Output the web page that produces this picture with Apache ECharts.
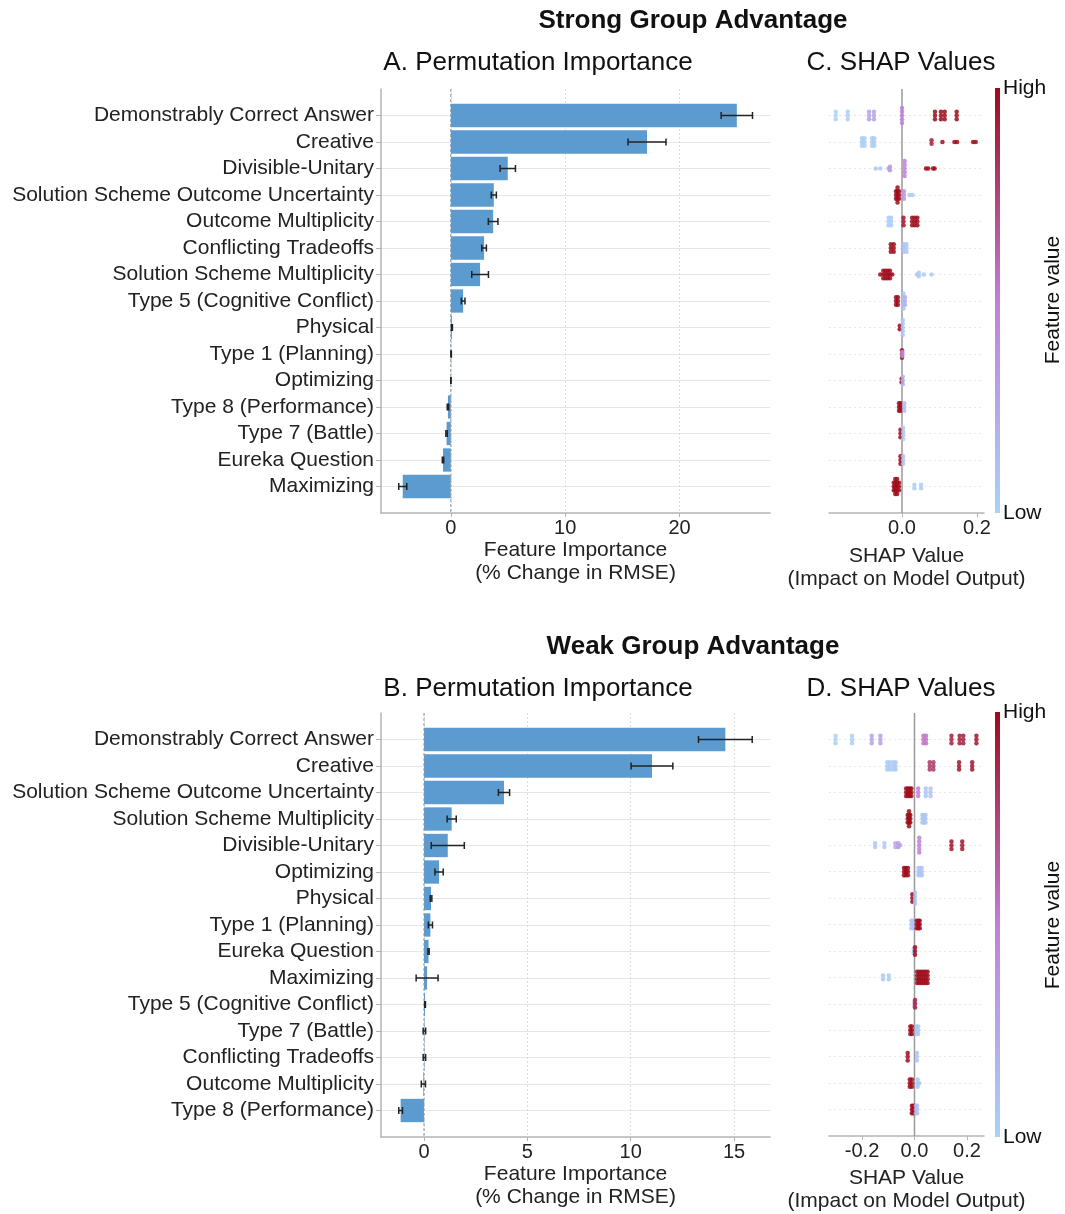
<!DOCTYPE html>
<html>
<head>
<meta charset="utf-8">
<script src="https://cdn.jsdelivr.net/npm/echarts@6/dist/echarts.min.js"></script>
<style>
  html, body { margin: 0; padding: 0; background: #fff; }
  #main { width: 1065px; height: 1214px; }
</style>
</head>
<body>
<div id="main"></div>
<script>
// ---- data: permutation importance (strong group advantage) ----
var catsA = ['Demonstrably Correct Answer', 'Creative', 'Divisible-Unitary', 'Solution Scheme Outcome Uncertainty',
  'Outcome Multiplicity', 'Conflicting Tradeoffs', 'Solution Scheme Multiplicity', 'Type 5 (Cognitive Conflict)',
  'Physical', 'Type 1 (Planning)', 'Optimizing', 'Type 8 (Performance)', 'Type 7 (Battle)', 'Eureka Question', 'Maximizing'];
var impA = [25.0, 17.15, 4.98, 3.76, 3.70, 2.91, 2.56, 1.08, 0.10, 0.03, 0.01, -0.25, -0.37, -0.68, -4.2];
var errA = [1.37, 1.66, 0.67, 0.22, 0.42, 0.20, 0.73, 0.16, 0.04, 0.02, 0.01, 0.06, 0.06, 0.06, 0.35];

// ---- data: permutation importance (weak group advantage) ----
var catsB = ['Demonstrably Correct Answer', 'Creative', 'Solution Scheme Outcome Uncertainty', 'Solution Scheme Multiplicity',
  'Divisible-Unitary', 'Optimizing', 'Physical', 'Type 1 (Planning)', 'Eureka Question', 'Maximizing',
  'Type 5 (Cognitive Conflict)', 'Type 7 (Battle)', 'Conflicting Tradeoffs', 'Outcome Multiplicity', 'Type 8 (Performance)'];
var impB = [14.58, 11.03, 3.87, 1.34, 1.15, 0.73, 0.34, 0.31, 0.22, 0.15, 0.05, 0.02, 0.02, -0.03, -1.13];
var errB = [1.30, 1.01, 0.27, 0.22, 0.80, 0.20, 0.04, 0.10, 0.03, 0.53, 0.02, 0.06, 0.06, 0.10, 0.09];

// ---- data: SHAP clusters per row, [shap value, feature value 0..1, stacked dots] ----
var shapC = [
  [[-0.177, 0.0, 3], [-0.145, 0.02, 3], [-0.088, 0.3, 3], [-0.075, 0.3, 3], [0.0, 0.5, 5], [0.088, 1, 3], [0.104, 1, 3], [0.114, 1, 3], [0.146, 1, 3]],
  [[-0.107, 0.03, 3], [-0.1, 0.03, 3], [-0.08, 0.03, 3], [-0.074, 0.03, 3], [0.079, 0.9, 2], [0.108, 1, 1], [0.14, 1, 1], [0.147, 1, 1], [0.19, 1, 1], [0.197, 1, 1]],
  [[-0.07, 0.05, 1], [-0.058, 0.05, 1], [-0.036, 0.25, 1], [-0.032, 0.35, 2], [0.007, 0.5, 5], [0.064, 1, 1], [0.07, 1, 1], [0.083, 1, 1], [0.087, 1, 1]],
  [[-0.016, 1, 3], [-0.012, 1, 5], [-0.008, 1, 3], [0.005, 0.4, 3], [0.02, 0.05, 1], [0.028, 0.05, 1]],
  [[-0.036, 0.03, 3], [-0.029, 0.03, 3], [0.004, 0.95, 3], [0.027, 1, 3], [0.034, 1, 3], [0.041, 1, 3]],
  [[-0.03, 1, 3], [-0.022, 1, 3], [0.004, 0.12, 3], [0.012, 0.08, 3]],
  [[-0.058, 1, 1], [-0.05, 1, 3], [-0.044, 1, 3], [-0.038, 1, 3], [-0.032, 1, 3], [-0.026, 1, 1], [0.04, 0.05, 1], [0.045, 0.05, 2], [0.058, 0.05, 1], [0.079, 0.05, 1]],
  [[-0.016, 1, 3], [-0.011, 1, 3], [0.004, 0.08, 5], [0.008, 0.2, 3]],
  [[-0.006, 1, 2], [0.002, 0.08, 5]],
  [[0.0, 0.95, 3], [0.001, 0.4, 2]],
  [[-0.001, 1, 2], [0.002, 0.15, 3]],
  [[-0.008, 1, 3], [-0.004, 1, 3], [0.006, 0.15, 3]],
  [[-0.004, 1, 3], [0.003, 0.08, 4]],
  [[-0.004, 1, 3], [0.003, 0.08, 3]],
  [[-0.022, 1, 3], [-0.018, 1, 5], [-0.013, 1, 5], [-0.008, 1, 3], [0.033, 0.03, 2], [0.051, 0.03, 2]]
];
var shapD = [
  [[-0.301, 0.0, 3], [-0.238, 0.02, 3], [-0.163, 0.3, 3], [-0.13, 0.3, 3], [0.034, 0.55, 3], [0.044, 0.55, 3], [0.141, 0.9, 3], [0.172, 0.92, 3], [0.186, 0.92, 3], [0.236, 0.95, 3]],
  [[-0.104, 0.05, 3], [-0.093, 0.05, 3], [-0.08, 0.05, 3], [-0.072, 0.05, 3], [0.058, 0.8, 3], [0.072, 0.8, 3], [0.17, 0.95, 3], [0.22, 0.95, 3]],
  [[-0.032, 1, 3], [-0.025, 1, 3], [-0.018, 1, 3], [-0.012, 1, 3], [0.014, 0.5, 3], [0.043, 0.08, 3], [0.061, 0.08, 3]],
  [[-0.026, 1, 3], [-0.021, 1, 5], [-0.016, 1, 3], [0.03, 0.08, 3], [0.036, 0.08, 3], [0.042, 0.08, 3]],
  [[-0.15, 0.05, 2], [-0.115, 0.05, 2], [-0.073, 0.25, 2], [-0.062, 0.35, 2], [-0.055, 0.3, 1], [0.018, 0.5, 5], [0.141, 0.95, 3], [0.182, 0.95, 3]],
  [[-0.04, 1, 3], [-0.033, 1, 3], [-0.025, 1, 3], [0.015, 0.08, 3], [0.022, 0.08, 3], [0.028, 0.08, 3]],
  [[-0.008, 1, 3], [0.002, 0.1, 4]],
  [[-0.012, 0.08, 3], [-0.005, 0.08, 3], [0.008, 1, 3], [0.015, 1, 3], [0.02, 1, 3]],
  [[-0.003, 0.1, 2], [0.002, 1, 3]],
  [[-0.12, 0.05, 2], [-0.098, 0.05, 2], [0.01, 1, 4], [0.018, 1, 4], [0.026, 1, 4], [0.034, 1, 4], [0.042, 1, 4], [0.05, 1, 4]],
  [[0.0, 0.4, 2], [0.002, 0.9, 3]],
  [[-0.016, 1, 3], [-0.01, 1, 3], [0.008, 0.08, 3], [0.014, 0.08, 3]],
  [[-0.026, 1, 3], [0.009, 0.08, 3]],
  [[-0.018, 1, 3], [-0.01, 1, 3], [0.012, 0.08, 3], [0.018, 0.08, 1]],
  [[-0.01, 1, 3], [-0.004, 1, 3], [0.005, 0.2, 3], [0.01, 0.1, 3]]
];

var ticksA = [0, 10, 20];
var ticksB = [0, 5, 10, 15];
var ticksC = [0, 0.2];
var ticksD = [-0.2, 0, 0.2];
var rowIdx = [0, 1, 2, 3, 4, 5, 6, 7, 8, 9, 10, 11, 12, 13, 14];

var FONT = '"Liberation Sans", Arial, Helvetica, sans-serif';
var barColor = '#5b9bd0';
var shapColors = ['#a9d2f8', '#c07fd8', '#9e0a1a'];

var myChart = echarts.init(document.getElementById('main'), null, { renderer: 'canvas' });

function barItem(params, api) {
  var v = api.value(0), i = api.value(1);
  var p0 = api.coord([0, i]), p1 = api.coord([v, i]);
  var h = api.size([0, 0.88])[1];
  return {
    type: 'rect',
    shape: { x: Math.min(p0[0], p1[0]), y: p0[1] - h / 2, width: Math.abs(p1[0] - p0[0]), height: h },
    style: { fill: barColor }
  };
}
function errItem(params, api) {
  var v = api.value(0), i = api.value(1), e = api.value(2);
  var a = api.coord([v - e, i]), b = api.coord([v + e, i]);
  var c = 3.5;
  var st = { stroke: '#222', lineWidth: 1.5 };
  return {
    type: 'group',
    children: [
      { type: 'line', shape: { x1: a[0], y1: a[1], x2: b[0], y2: b[1] }, style: st },
      { type: 'line', shape: { x1: a[0], y1: a[1] - c, x2: a[0], y2: a[1] + c }, style: st },
      { type: 'line', shape: { x1: b[0], y1: b[1] - c, x2: b[0], y2: b[1] + c }, style: st }
    ]
  };
}
function zeroLine(dash, color, w) {
  return function (params, api) {
    var a = api.coord([0, -1]), b = api.coord([0, 15]);
    return { type: 'line', shape: { x1: a[0], y1: a[1], x2: b[0], y2: b[1] },
      style: { stroke: color, lineWidth: w, lineDash: dash } };
  };
}
function swarm(rows) {
  var pts = [];
  rows.forEach(function (cl, r) {
    cl.forEach(function (c) {
      for (var k = 0; k < c[2]; k++) {
        pts.push([c[0], r + (k - (c[2] - 1) / 2) * 0.14, c[1]]);
      }
    });
  });
  return pts;
}
function pack(vals, errs) {
  return vals.map(function (v, i) { return [v, i, errs[i]]; });
}

function barX(min, max, ticks, gi, gap) {
  return {
    type: 'value', gridIndex: gi, min: min, max: max,
    name: 'Feature Importance\n(% Change in RMSE)', nameLocation: 'middle', nameGap: gap,
    nameTextStyle: { fontFamily: FONT, fontSize: 21, lineHeight: 23, color: '#222' },
    axisLine: { show: true, onZero: false, lineStyle: { color: '#b5b5b5', width: 1.5 } },
    axisTick: { show: true, length: 4, customValues: ticks, lineStyle: { color: '#b5b5b5' } },
    axisLabel: { customValues: ticks, margin: 5, fontFamily: FONT, fontSize: 20, color: '#222' },
    splitLine: { show: true, lineStyle: { color: '#dcdcdc', type: [2, 2], width: 1 } }
  };
}
function shapX(min, max, ticks, gi, gap) {
  return {
    type: 'value', gridIndex: gi, min: min, max: max,
    name: 'SHAP Value\n(Impact on Model Output)', nameLocation: 'middle', nameGap: gap,
    nameTextStyle: { fontFamily: FONT, fontSize: 21, lineHeight: 23, color: '#222' },
    axisLine: { show: true, onZero: false, lineStyle: { color: '#b5b5b5', width: 1.5 } },
    axisTick: { show: true, length: 4, customValues: ticks, lineStyle: { color: '#b5b5b5' } },
    axisLabel: { customValues: ticks, margin: 5, fontFamily: FONT, fontSize: 20, color: '#222',
      formatter: function (v) { return v.toFixed(1); } },
    splitLine: { show: false }
  };
}
function barY(cats, gi) {
  return {
    type: 'value', gridIndex: gi, min: -1, max: 15, inverse: true,
    axisLine: { show: true, onZero: false, lineStyle: { color: '#b5b5b5', width: 1.5 } },
    axisTick: { show: true, length: 5, customValues: rowIdx, lineStyle: { color: '#b5b5b5' } },
    axisLabel: { customValues: rowIdx, margin: 7, fontFamily: FONT, fontSize: 21, color: '#222',
      formatter: function (v) { return cats[v] || ''; } },
    splitLine: { show: true, lineStyle: { color: '#e6e6e6', width: 1 } }
  };
}
function shapY(gi) {
  return {
    type: 'value', gridIndex: gi, min: -1, max: 15, inverse: true,
    axisLine: { show: false, onZero: false },
    axisTick: { show: false, customValues: rowIdx },
    axisLabel: { show: false, customValues: rowIdx },
    splitLine: { show: true, lineStyle: { color: '#e8e8e8', type: [2, 3], width: 1 } }
  };
}

function text(str, x, y, size, weight, align, rot) {
  return {
    type: 'text', x: x, y: y, rotation: rot || 0,
    style: { text: str, fontFamily: FONT, fontSize: size, fontWeight: weight || 'normal', fill: '#111',
      textAlign: align || 'center', textVerticalAlign: 'middle' }
  };
}
function colorBar(top) {
  return {
    type: 'rect', shape: { x: 995, y: top, width: 5, height: 425 },
    style: { fill: new echarts.graphic.LinearGradient(0, 0, 0, 1, [
      { offset: 0, color: shapColors[2] }, { offset: 0.5, color: shapColors[1] }, { offset: 1, color: shapColors[0] }
    ]) }
  };
}

var option = {
  backgroundColor: '#fff',
  animation: false,
  grid: [
    { left: 381, top: 89, width: 389, height: 424 },
    { left: 829, top: 89, width: 155, height: 424 },
    { left: 381, top: 713, width: 389, height: 424 },
    { left: 829, top: 713, width: 155, height: 424 }
  ],
  xAxis: [
    barX(-6.1, 27.9, ticksA, 0, 26),
    shapX(-0.195, 0.219, ticksC, 1, 32),
    barX(-2.08, 16.74, ticksB, 2, 25),
    shapX(-0.326, 0.265, ticksD, 3, 31)
  ],
  yAxis: [barY(catsA, 0), shapY(1), barY(catsB, 2), shapY(3)],
  visualMap: {
    type: 'continuous', show: false, min: 0, max: 1, dimension: 2, seriesIndex: [4, 9],
    inRange: { color: shapColors }
  },
  series: [
    { type: 'custom', xAxisIndex: 0, yAxisIndex: 0, renderItem: barItem, data: pack(impA, errA), encode: { x: 0, y: 1 }, z: 2 },
    { type: 'custom', xAxisIndex: 0, yAxisIndex: 0, renderItem: errItem, data: pack(impA, errA), encode: { x: 0, y: 1 }, z: 4 },
    { type: 'custom', xAxisIndex: 0, yAxisIndex: 0, renderItem: zeroLine([3, 2], '#8a9aa8', 1), data: [[0, 0]], encode: { x: 0, y: 1 }, z: 3 },
    { type: 'custom', xAxisIndex: 1, yAxisIndex: 1, renderItem: zeroLine(null, '#9a9a9a', 1.5), data: [[0, 0]], encode: { x: 0, y: 1 }, z: 1 },
    { type: 'scatter', xAxisIndex: 1, yAxisIndex: 1, data: swarm(shapC), symbolSize: 4.5, itemStyle: { opacity: 0.85 }, z: 3 },
    { type: 'custom', xAxisIndex: 2, yAxisIndex: 2, renderItem: barItem, data: pack(impB, errB), encode: { x: 0, y: 1 }, z: 2 },
    { type: 'custom', xAxisIndex: 2, yAxisIndex: 2, renderItem: errItem, data: pack(impB, errB), encode: { x: 0, y: 1 }, z: 4 },
    { type: 'custom', xAxisIndex: 2, yAxisIndex: 2, renderItem: zeroLine([3, 2], '#8a9aa8', 1), data: [[0, 0]], encode: { x: 0, y: 1 }, z: 3 },
    { type: 'custom', xAxisIndex: 3, yAxisIndex: 3, renderItem: zeroLine(null, '#9a9a9a', 1.5), data: [[0, 0]], encode: { x: 0, y: 1 }, z: 1 },
    { type: 'scatter', xAxisIndex: 3, yAxisIndex: 3, data: swarm(shapD), symbolSize: 4.5, itemStyle: { opacity: 0.85 }, z: 3 }
  ],
  graphic: [
    text('Strong Group Advantage', 693, 21, 26, 'bold'),
    text('A. Permutation Importance', 538, 63, 26),
    text('C. SHAP Values', 901, 63, 26),
    text('Weak Group Advantage', 693, 647, 26, 'bold'),
    text('B. Permutation Importance', 538, 689, 26),
    text('D. SHAP Values', 901, 689, 26),
    colorBar(88),
    text('High', 1003, 88, 21, 'normal', 'left'),
    text('Low', 1003, 513, 21, 'normal', 'left'),
    text('Feature value', 1053, 300, 21, 'normal', 'center', Math.PI / 2),
    colorBar(712),
    text('High', 1003, 712, 21, 'normal', 'left'),
    text('Low', 1003, 1137, 21, 'normal', 'left'),
    text('Feature value', 1053, 925, 21, 'normal', 'center', Math.PI / 2)
  ]
};
myChart.setOption(option);
</script>
</body>
</html>
